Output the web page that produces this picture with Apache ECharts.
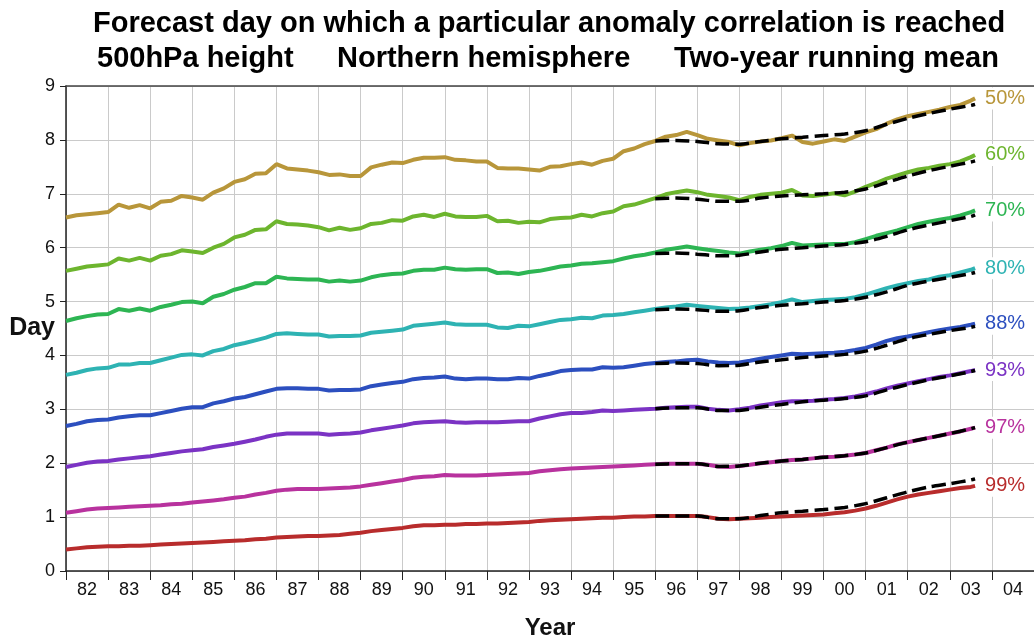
<!DOCTYPE html>
<html>
<head>
<meta charset="utf-8">
<script src="https://cdn.jsdelivr.net/npm/echarts@6/dist/echarts.min.js"></script>
<style>
  html, body { margin: 0; padding: 0; background: #fff; }
  #chart { width: 1034px; height: 640px; }
</style>
</head>
<body>
<div id="chart"></div>
<script>
// Sampling times of the monthly-derived running means: quarterly, 1982 to mid-2003
const YEARS = [];
for (let y = 1982; y <= 2002; y++) YEARS.push(y, y + 0.25, y + 0.5, y + 0.75);
YEARS.push(2003, 2003.25, 2003.5, 2003.6);

// Sampling times of the smoothed trend curves (from 1996 on)
const TREND_YEARS = [1996, 1996.5, 1997, 1997.5, 1998, 1998.5, 1999, 1999.5, 2000,
  2000.5, 2001, 2001.5, 2002, 2002.5, 2003, 2003.5, 2003.6];

// Tick labels, centred inside each year
const YEAR_LABELS = ['82','83','84','85','86','87','88','89','90','91','92','93',
  '94','95','96','97','98','99','00','01','02','03','04'];

// Forecast day reached, per anomaly-correlation threshold (one row per year)
const P50 = [
  6.56, 6.60, 6.62, 6.64,  6.66, 6.80, 6.74, 6.79,  6.73, 6.85, 6.87, 6.96,
  6.93, 6.89, 7.02, 7.10,  7.22, 7.27, 7.37, 7.38,  7.55, 7.47, 7.45, 7.43,
  7.40, 7.35, 7.36, 7.33,  7.33, 7.49, 7.54, 7.58,  7.57, 7.63, 7.67, 7.67,
  7.68, 7.63, 7.62, 7.60,  7.60, 7.48, 7.47, 7.47,  7.45, 7.43, 7.50, 7.51,
  7.55, 7.58, 7.54, 7.61,  7.65, 7.79, 7.84, 7.92,  7.98, 8.06, 8.09, 8.15,
  8.09, 8.02, 7.99, 7.96,  7.90, 7.94, 7.97, 7.99,  8.03, 8.08, 7.96, 7.93,
  7.97, 8.01, 7.98, 8.06,  8.14, 8.20, 8.30, 8.38,  8.44, 8.48, 8.52, 8.56,
  8.61, 8.65, 8.73, 8.77
];
const P60 = [
  5.57, 5.61, 5.65, 5.67,  5.69, 5.80, 5.76, 5.81,  5.76, 5.85, 5.88, 5.95,
  5.93, 5.90, 6.00, 6.07,  6.19, 6.24, 6.33, 6.34,  6.49, 6.44, 6.43, 6.41,
  6.38, 6.32, 6.37, 6.33,  6.36, 6.44, 6.46, 6.51,  6.50, 6.58, 6.61, 6.57,
  6.63, 6.58, 6.57, 6.57,  6.59, 6.49, 6.50, 6.46,  6.48, 6.47, 6.53, 6.55,
  6.56, 6.61, 6.58, 6.64,  6.67, 6.77, 6.80, 6.86,  6.92, 6.99, 7.03, 7.06,
  7.03, 6.98, 6.96, 6.93,  6.88, 6.94, 6.98, 7.00,  7.02, 7.07, 6.97, 6.96,
  6.98, 7.01, 6.97, 7.04,  7.13, 7.20, 7.28, 7.34,  7.40, 7.45, 7.48, 7.52,
  7.55, 7.60, 7.68, 7.72
];
const P70 = [
  4.64, 4.69, 4.73, 4.76,  4.77, 4.86, 4.83, 4.87,  4.83, 4.90, 4.94, 4.99,
  5.00, 4.97, 5.09, 5.14,  5.22, 5.27, 5.34, 5.34,  5.46, 5.43, 5.42, 5.41,
  5.41, 5.37, 5.39, 5.37,  5.39, 5.45, 5.49, 5.51,  5.52, 5.57, 5.59, 5.59,
  5.63, 5.60, 5.59, 5.60,  5.60, 5.53, 5.54, 5.51,  5.55, 5.57, 5.61, 5.65,
  5.67, 5.70, 5.71, 5.73,  5.75, 5.80, 5.84, 5.87,  5.91, 5.96, 5.99, 6.02,
  5.99, 5.96, 5.94, 5.91,  5.89, 5.93, 5.96, 5.99,  6.03, 6.09, 6.04, 6.05,
  6.06, 6.07, 6.07, 6.10,  6.16, 6.22, 6.27, 6.32,  6.38, 6.44, 6.48, 6.52,
  6.55, 6.60, 6.66, 6.69
];
const P80 = [
  3.64, 3.68, 3.73, 3.76,  3.77, 3.83, 3.83, 3.86,  3.86, 3.91, 3.96, 4.01,
  4.02, 4.00, 4.08, 4.12,  4.19, 4.23, 4.28, 4.33,  4.40, 4.41, 4.40, 4.39,
  4.39, 4.35, 4.36, 4.36,  4.37, 4.42, 4.44, 4.46,  4.48, 4.55, 4.57, 4.59,
  4.61, 4.58, 4.57, 4.57,  4.57, 4.52, 4.51, 4.55,  4.54, 4.58, 4.62, 4.66,
  4.67, 4.70, 4.69, 4.74,  4.75, 4.77, 4.80, 4.83,  4.86, 4.89, 4.91, 4.94,
  4.92, 4.90, 4.88, 4.86,  4.87, 4.89, 4.92, 4.95,  4.99, 5.04, 4.99, 5.01,
  5.03, 5.04, 5.05, 5.08,  5.13, 5.19, 5.25, 5.30,  5.34, 5.38, 5.41, 5.46,
  5.49, 5.54, 5.59, 5.62
];
const P88 = [
  2.69, 2.73, 2.78, 2.80,  2.81, 2.85, 2.87, 2.89,  2.89, 2.93, 2.97, 3.01,
  3.04, 3.04, 3.11, 3.15,  3.20, 3.23, 3.28, 3.33,  3.38, 3.39, 3.39, 3.38,
  3.38, 3.35, 3.36, 3.36,  3.37, 3.43, 3.46, 3.49,  3.51, 3.56, 3.58, 3.59,
  3.61, 3.57, 3.56, 3.57,  3.57, 3.56, 3.56, 3.58,  3.57, 3.62, 3.66, 3.71,
  3.73, 3.74, 3.74, 3.78,  3.77, 3.78, 3.81, 3.84,  3.86, 3.88, 3.89, 3.91,
  3.92, 3.89, 3.87, 3.86,  3.87, 3.90, 3.94, 3.97,  4.00, 4.03, 4.02, 4.03,
  4.04, 4.05, 4.07, 4.10,  4.14, 4.20, 4.27, 4.32,  4.35, 4.39, 4.43, 4.47,
  4.50, 4.53, 4.57, 4.59
];
const P93 = [
  1.93, 1.97, 2.01, 2.03,  2.04, 2.07, 2.09, 2.11,  2.13, 2.16, 2.19, 2.22,
  2.24, 2.26, 2.30, 2.33,  2.36, 2.40, 2.44, 2.49,  2.53, 2.55, 2.55, 2.55,
  2.55, 2.53, 2.54, 2.55,  2.57, 2.61, 2.64, 2.67,  2.70, 2.74, 2.76, 2.77,
  2.78, 2.76, 2.75, 2.76,  2.76, 2.76, 2.77, 2.78,  2.78, 2.83, 2.87, 2.91,
  2.93, 2.93, 2.95, 2.98,  2.97, 2.98, 2.99, 3.00,  3.01, 3.03, 3.04, 3.05,
  3.05, 3.01, 2.99, 2.98,  3.00, 3.03, 3.07, 3.10,  3.13, 3.15, 3.15, 3.16,
  3.18, 3.19, 3.21, 3.24,  3.28, 3.33, 3.39, 3.44,  3.48, 3.52, 3.56, 3.60,
  3.63, 3.67, 3.71, 3.73
];
const P97 = [
  1.08, 1.11, 1.14, 1.16,  1.17, 1.18, 1.19, 1.20,  1.21, 1.22, 1.24, 1.25,
  1.27, 1.29, 1.31, 1.33,  1.36, 1.38, 1.42, 1.45,  1.49, 1.51, 1.52, 1.52,
  1.52, 1.53, 1.54, 1.55,  1.57, 1.60, 1.63, 1.66,  1.69, 1.73, 1.75, 1.76,
  1.78, 1.77, 1.77, 1.77,  1.78, 1.79, 1.80, 1.81,  1.82, 1.85, 1.87, 1.89,
  1.90, 1.91, 1.92, 1.93,  1.94, 1.95, 1.96, 1.97,  1.98, 1.99, 1.99, 1.99,
  1.99, 1.97, 1.94, 1.93,  1.95, 1.97, 2.00, 2.02,  2.04, 2.06, 2.07, 2.09,
  2.11, 2.12, 2.14, 2.16,  2.19, 2.24, 2.29, 2.35,  2.39, 2.43, 2.47, 2.51,
  2.55, 2.59, 2.64, 2.66
];
const P99 = [
  0.40, 0.42, 0.44, 0.45,  0.46, 0.46, 0.47, 0.47,  0.48, 0.49, 0.50, 0.51,
  0.52, 0.53, 0.54, 0.55,  0.56, 0.57, 0.59, 0.60,  0.62, 0.63, 0.64, 0.65,
  0.65, 0.66, 0.67, 0.69,  0.71, 0.74, 0.76, 0.78,  0.80, 0.83, 0.85, 0.85,
  0.86, 0.86, 0.87, 0.87,  0.88, 0.88, 0.89, 0.90,  0.91, 0.93, 0.94, 0.95,
  0.96, 0.97, 0.98, 0.99,  0.99, 1.00, 1.01, 1.01,  1.02, 1.02, 1.02, 1.02,
  1.02, 1.00, 0.97, 0.96,  0.97, 0.98, 0.99, 1.00,  1.01, 1.02, 1.03, 1.04,
  1.05, 1.07, 1.09, 1.12,  1.16, 1.21, 1.27, 1.33,  1.38, 1.42, 1.45, 1.48,
  1.51, 1.54, 1.56, 1.58
];

// Smoothed trend curves since 1996
const T50 = [7.98, 7.99, 7.97, 7.93, 7.92, 7.97, 8.02, 8.05, 8.08, 8.11, 8.17, 8.29, 8.40, 8.49, 8.57, 8.64, 8.66];
const T60 = [6.91, 6.92, 6.90, 6.86, 6.86, 6.92, 6.96, 6.98, 7.00, 7.03, 7.09, 7.21, 7.33, 7.43, 7.51, 7.59, 7.61];
const T70 = [5.89, 5.90, 5.88, 5.85, 5.86, 5.92, 5.97, 6.00, 6.03, 6.06, 6.11, 6.21, 6.33, 6.42, 6.50, 6.58, 6.61];
const T80 = [4.85, 4.86, 4.85, 4.82, 4.83, 4.89, 4.93, 4.96, 4.99, 5.02, 5.08, 5.18, 5.30, 5.38, 5.45, 5.52, 5.54];
const T88 = [3.85, 3.86, 3.85, 3.81, 3.82, 3.88, 3.92, 3.96, 3.99, 4.02, 4.08, 4.19, 4.31, 4.39, 4.46, 4.52, 4.54];
const T93 = [3.01, 3.03, 3.03, 2.98, 2.98, 3.04, 3.09, 3.14, 3.17, 3.20, 3.25, 3.36, 3.46, 3.55, 3.62, 3.70, 3.72];
const T97 = [1.98, 1.99, 1.99, 1.94, 1.95, 2.00, 2.04, 2.07, 2.11, 2.14, 2.19, 2.29, 2.39, 2.47, 2.55, 2.64, 2.66];
const T99 = [1.02, 1.02, 1.02, 0.97, 0.97, 1.03, 1.08, 1.11, 1.14, 1.18, 1.25, 1.36, 1.47, 1.56, 1.62, 1.69, 1.71];

const THRESHOLDS = ['50%', '60%', '70%', '80%', '88%', '93%', '97%', '99%'];
const VALUES = [P50, P60, P70, P80, P88, P93, P97, P99];
const TRENDS = [T50, T60, T70, T80, T88, T93, T97, T99];
const COLORS = ['#b8963a', '#6db52e', '#2db553', '#2eb3b3', '#2c4fbf', '#7b33c4', '#b8329e', '#b82c2c'];

const FONT = '"Liberation Sans", Arial, Helvetica, sans-serif';

const colourSeries = THRESHOLDS.map((name, k) => ({
  name: name,
  type: 'line',
  data: YEARS.map((t, i) => [t, VALUES[k][i]]),
  showSymbol: false,
  z: 2,
  lineStyle: { color: COLORS[k], width: 4 },
  itemStyle: { color: COLORS[k] },
  endLabel: {
    show: true,
    formatter: name,
    color: COLORS[k],
    fontSize: 20,
    fontFamily: FONT,
    distance: 8,
    backgroundColor: '#fff',
    padding: [1, 2]
  }
}));

const trendSeries = THRESHOLDS.map((name, k) => ({
  name: name + ' trend',
  type: 'line',
  data: TREND_YEARS.map((t, i) => [t, TRENDS[k][i]]),
  showSymbol: false,
  smooth: 0.3,
  z: 3,
  lineStyle: { color: '#000', width: 3.5, type: [14, 6] }
}));

const chart = echarts.init(document.getElementById('chart'), null, { renderer: 'canvas' });

const titleStyle = { fontSize: 29, fontWeight: 'bold', color: '#000', fontFamily: FONT };

chart.setOption({
  animation: false,
  backgroundColor: '#fff',
  textStyle: { fontFamily: FONT },
  title: [
    { text: 'Forecast day on which a particular anomaly correlation is reached', left: 93, top: 9, padding: 0, textStyle: titleStyle },
    { text: '500hPa height', left: 97, top: 44, padding: 0, textStyle: titleStyle },
    { text: 'Northern hemisphere', left: 337, top: 44, padding: 0, textStyle: titleStyle },
    { text: 'Two-year running mean', left: 674, top: 44, padding: 0, textStyle: titleStyle }
  ],
  grid: { left: 66, right: 0, top: 86, bottom: 69, outerBoundsMode: 'none', containLabel: false },
  xAxis: [
    {
      type: 'value',
      position: 'bottom',
      min: 1982,
      max: 2005,
      interval: 1,
      axisLine: { show: true, onZero: false, lineStyle: { color: '#222', width: 1.5 } },
      axisTick: { show: true, length: 9, lineStyle: { color: '#222', width: 1 } },
      splitLine: { show: true, lineStyle: { color: '#cacaca', width: 1 } },
      axisLabel: {
        customValues: YEAR_LABELS.map((_, i) => 1982.5 + i),
        formatter: (v) => YEAR_LABELS[Math.round(v - 1982.5)],
        fontSize: 18,
        color: '#111',
        margin: 10,
        fontFamily: FONT
      },
      name: 'Year',
      nameLocation: 'middle',
      nameMoveOverlap: false,
      nameGap: 45,
      nameTextStyle: { fontSize: 24, fontWeight: 'bold', color: '#111', fontFamily: FONT }
    },
    {
      type: 'value',
      position: 'top',
      min: 1982,
      max: 2005,
      axisLine: { show: true, onZero: false, lineStyle: { color: '#444', width: 1.5 } },
      axisTick: { show: false },
      axisLabel: { show: false },
      splitLine: { show: false }
    }
  ],
  yAxis: {
    type: 'value',
    min: 0,
    max: 9,
    interval: 1,
    axisLine: { show: true, lineStyle: { color: '#222', width: 1.5 } },
    axisTick: { show: true, length: 6, lineStyle: { color: '#222' } },
    splitLine: { show: true, lineStyle: { color: '#cacaca', width: 1 } },
    axisLabel: { fontSize: 18, color: '#111', margin: 11, fontFamily: FONT },
    name: 'Day',
    nameLocation: 'middle',
    nameRotate: 0,
    nameMoveOverlap: false,
    nameGap: 11,
    nameTextStyle: { fontSize: 25, fontWeight: 'bold', color: '#111', fontFamily: FONT }
  },
  series: colourSeries.concat(trendSeries)
});
</script>
</body>
</html>
